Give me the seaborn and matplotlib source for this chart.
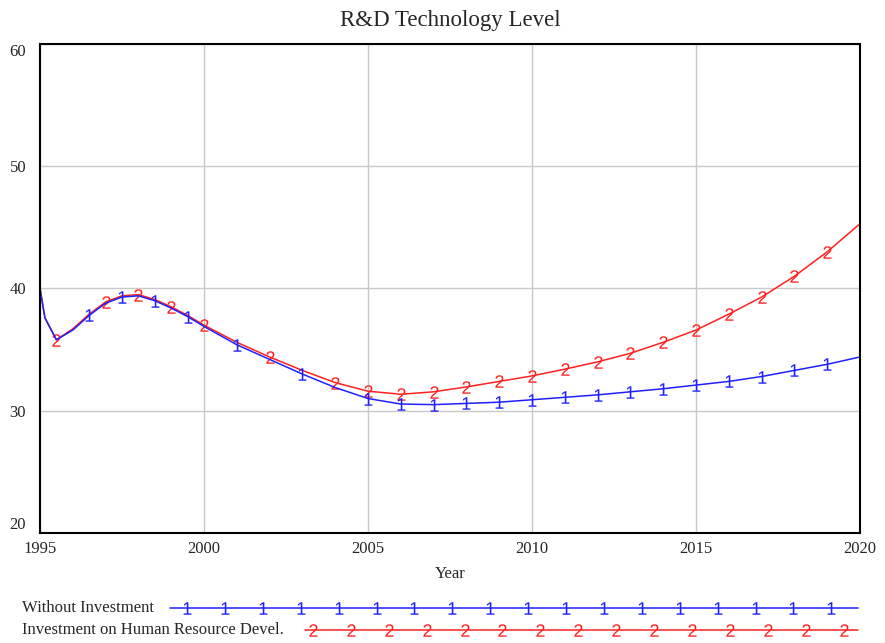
import numpy as np
import pandas as pd
import seaborn as sns
import matplotlib.pyplot as plt

# Values
years = [1995, 1995.15, 1995.5, 1996, 1996.5, 1997, 1997.5, 1998, 1998.5, 1999, 1999.5, 2000,
         2001, 2002, 2003, 2004, 2005, 2006, 2007, 2008, 2009, 2010,
         2011, 2012, 2013, 2014, 2015, 2016, 2017, 2018, 2019, 2020]
without_investment = [40.0, 37.6, 35.8, 36.6, 37.8, 38.8, 39.3, 39.4, 39.0, 38.4, 37.7, 36.9,
                      35.4, 34.2, 33.0, 31.9, 31.0, 30.55, 30.5, 30.6, 30.7, 30.9,
                      31.1, 31.3, 31.55, 31.8, 32.1, 32.4, 32.8, 33.3, 33.8, 34.4]
human_resource = [40.0, 37.6, 35.8, 36.7, 37.9, 38.9, 39.4, 39.5, 39.1, 38.5, 37.8, 37.0,
                  35.6, 34.4, 33.3, 32.3, 31.6, 31.35, 31.55, 31.95, 32.4, 32.85,
                  33.4, 34.0, 34.7, 35.6, 36.6, 37.9, 39.3, 41.0, 43.0, 45.3]
series_names = ["Without Investment", "Investment on Human Resource Devel."]
x_ticks = [1995, 2000, 2005, 2010, 2015, 2020]
y_ticks = [20, 30, 40, 50, 60]

df = pd.DataFrame({"Year": years,
                   series_names[0]: without_investment,
                   series_names[1]: human_resource})

sns.set_style("white")
plt.rcParams["font.family"] = ["Liberation Serif", "DejaVu Serif"]
plt.rcParams["mathtext.fontset"] = "custom"
plt.rcParams["mathtext.rm"] = "Liberation Sans"
plt.rcParams["mathtext.it"] = "Liberation Sans"

fig = plt.figure(figsize=(8.85, 6.43), dpi=100)
ax = fig.add_axes([40 / 885, 1 - 533 / 643, 820 / 885, 489 / 643])

blue, red = "#2020ff", "#ff2020"
blue_marks = [4, 6, 8, 10, 12, 14] + list(range(16, 31))
red_marks = [2, 5, 7, 9, 11, 13, 15] + list(range(16, 31))

sns.lineplot(data=df, x="Year", y=series_names[1], color=red, lw=1.1,
             marker="$2$", markersize=9, markevery=red_marks,
             markeredgewidth=0, ax=ax)
sns.lineplot(data=df, x="Year", y=series_names[0], color=blue, lw=1.1,
             marker="$1$", markersize=9, markevery=blue_marks,
             markeredgewidth=0, ax=ax)

ax.set_xlim(1995, 2020)
ax.set_ylim(20, 60)
ax.set_xticks(x_ticks)
ax.set_yticks(y_ticks)
ax.grid(True, color="#c8c8c8", lw=1)
ax.set_axisbelow(True)
ax.tick_params(length=0, labelsize=12)
ax.tick_params(axis="y", pad=10)
ax.tick_params(axis="x", pad=6)
ylabels = ax.get_yticklabels()
ylabels[0].set_va("bottom")
ylabels[-1].set_va("top")
for s in ax.spines.values():
    s.set_color("black")
    s.set_linewidth(1.5)
ax.set_xlabel("Year", fontsize=12, labelpad=6)
ax.set_ylabel("")
ax.set_title("R&D Technology Level", fontsize=16.5, pad=13)

# Vensim-style legend beneath the chart
leg = fig.add_axes([0, 0, 1, 53 / 643])
leg.set_xlim(0, 885)
leg.set_ylim(0, 53)
leg.axis("off")
leg.text(22, 35, series_names[0], fontsize=12, va="center")
leg.text(22, 13, series_names[1], fontsize=12, va="center")
xs1 = np.linspace(170, 858, 200)
leg.plot(xs1, np.full_like(xs1, 35), color=blue, lw=1.1)
mk1 = np.arange(187, 858, 37.9)
leg.plot(mk1, np.full_like(mk1, 35), ls="none", marker="$1$", color=blue, markersize=9,
         markeredgewidth=0)
xs2 = np.linspace(305, 858, 200)
leg.plot(xs2, np.full_like(xs2, 13), color=red, lw=1.1)
mk2 = np.arange(313, 858, 37.9)
leg.plot(mk2, np.full_like(mk2, 13), ls="none", marker="$2$", color=red, markersize=9,
         markeredgewidth=0)

fig.savefig("out.png", dpi=100)
